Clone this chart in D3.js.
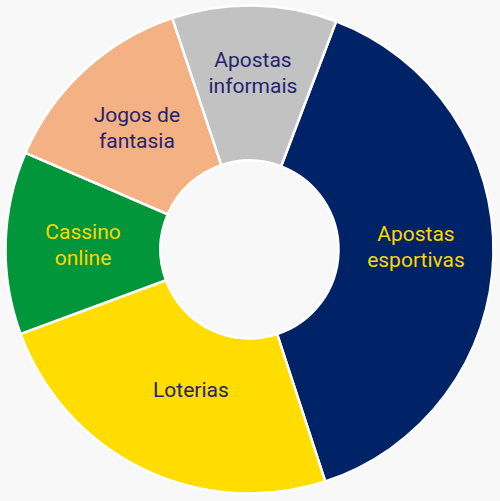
<!DOCTYPE html>
<html>
<head>
<meta charset="utf-8">
<script src="https://cdn.jsdelivr.net/npm/d3@7"></script>
<style>
  html, body { margin: 0; padding: 0; background: #f8f8f8; }
  svg { display: block; }
</style>
</head>
<body>
<script>
const categories = ["Apostas esportivas", "Loterias", "Cassino online", "Jogos de fantasia", "Apostas informais"];
const values = [39.2, 24.4, 12.1, 13.4, 10.9];
const labelLines = [["Apostas", "esportivas"], ["Loterias"], ["Cassino", "online"], ["Jogos de", "fantasia"], ["Apostas", "informais"]];

const fills = ["#002266", "#FFDD00", "#009639", "#F4B183", "#C2C2C2"];
const textColors = ["#FFD500", "#26246e", "#FFD500", "#26246e", "#26246e"];
const nudge = {"Apostas esportivas": [0, -7], "Loterias": [14, -10], "Apostas informais": [0, -10], "Jogos de fantasia": [0, 1]};

const W = 500, H = 501;
const cx = 249.5, cy = 249.5, rOut = 244, rIn = 89;
const startDeg = 20.8;

const svg = d3.select("body").append("svg").attr("width", W).attr("height", H);
const g = svg.append("g").attr("transform", `translate(${cx},${cy})`);

const data = categories.map((c, i) => ({cat: c, value: values[i], i}));
const pie = d3.pie().sort(null).value(d => d.value)
  .startAngle(startDeg * Math.PI / 180)
  .endAngle((startDeg + 360) * Math.PI / 180);
const arc = d3.arc().innerRadius(rIn).outerRadius(rOut);
const arcs = pie(data);

g.selectAll("path.slice").data(arcs).join("path")
  .attr("class", "slice")
  .attr("d", arc)
  .attr("fill", d => fills[d.data.i])
  .attr("stroke", "#ffffff")
  .attr("stroke-width", 2.5)
  .attr("stroke-linejoin", "miter");

const lh = 26;
const labels = g.selectAll("text.lbl").data(arcs).join("text")
  .attr("class", "lbl")
  .attr("transform", d => {
    const c = arc.centroid(d);
    const n = nudge[d.data.cat] || [0, 0];
    return `translate(${c[0] + n[0]},${c[1] + n[1]})`;
  })
  .attr("text-anchor", "middle")
  .attr("font-family", "Roboto, 'Open Sans', sans-serif")
  .attr("font-size", 21)
  .attr("fill", d => textColors[d.data.i]);

labels.each(function(d) {
  const lines = labelLines[d.data.i];
  const t = d3.select(this);
  const off = -(lines.length - 1) * lh / 2;
  lines.forEach((ln, k) => {
    t.append("tspan").attr("x", 0).attr("y", off + k * lh).attr("dy", "0.35em").text(ln);
  });
});
</script>
</body>
</html>
